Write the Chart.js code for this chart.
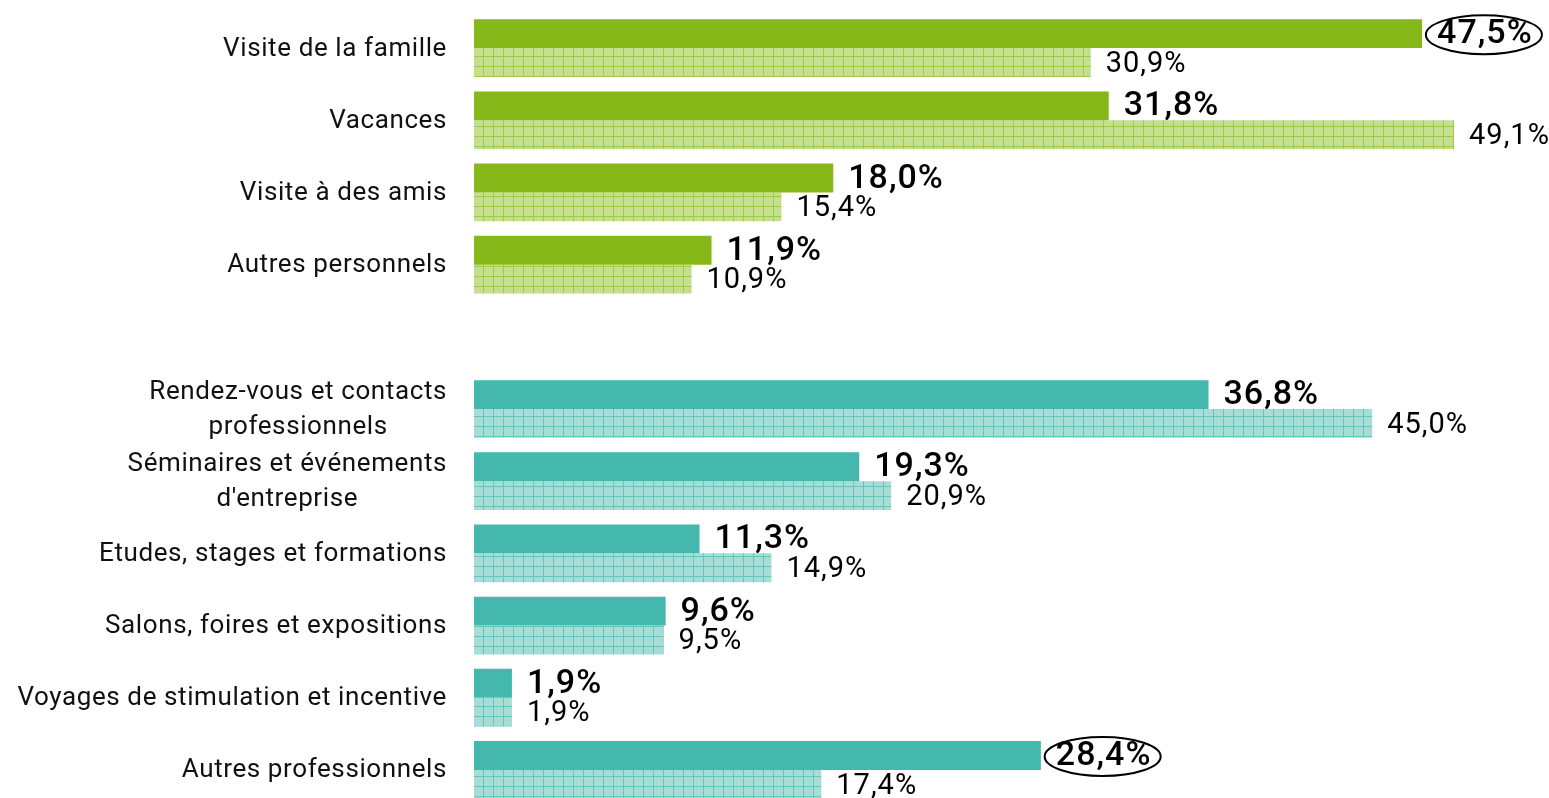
<!DOCTYPE html>
<html>
<head>
<meta charset="utf-8">
<script src="https://cdn.jsdelivr.net/npm/chart.js@4/dist/chart.umd.min.js"></script>
<style>
  html, body { margin: 0; padding: 0; background: #ffffff; overflow: hidden; }
  #wrap { position: relative; width: 1549px; height: 808px; }
</style>
</head>
<body>
<div id="wrap"><canvas id="c"></canvas></div>
<script>
// ---- data ----
const categories = [
  ["Visite de la famille"],
  ["Vacances"],
  ["Visite à des amis"],
  ["Autres personnels"],
  [""],
  ["Rendez-vous et contacts", "professionnels"],
  ["Séminaires et événements", "d'entreprise"],
  ["Etudes, stages et formations"],
  ["Salons, foires et expositions"],
  ["Voyages de stimulation et incentive"],
  ["Autres professionnels"]
];
const seriesCurrent  = [47.5, 31.8, 18.0, 11.9, null, 36.8, 19.3, 11.3, 9.6, 1.9, 28.4];
const seriesPrevious = [30.9, 49.1, 15.4, 10.9, null, 45.0, 20.9, 14.9, 9.5, 1.9, 17.4];
const groupOfCategory = ["perso", "perso", "perso", "perso", "none", "pro", "pro", "pro", "pro", "pro", "pro"];
const circled = [true, false, false, false, false, false, false, false, false, false, true];

// ---- styles ----
const palette = {
  perso: { solid: "#86B81A", light: "#C4DF90", line: "#9ACA48" },
  pro:   { solid: "#45B8AD", light: "#A8DDD7", line: "#66C4BA" },
  none:  { solid: "rgba(0,0,0,0)", light: "rgba(0,0,0,0)", line: "rgba(0,0,0,0)" }
};

const canvas = document.getElementById("c");
const ctx = canvas.getContext("2d");

function makePattern(light, line) {
  const t = document.createElement("canvas");
  t.width = 10; t.height = 10;
  const c = t.getContext("2d");
  c.fillStyle = light;
  c.fillRect(0, 0, 10, 10);
  c.fillStyle = line;
  c.fillRect(3, 0, 1, 10);
  c.fillRect(0, 6, 10, 1);
  return ctx.createPattern(t, "repeat");
}
const patterns = {
  perso: makePattern(palette.perso.light, palette.perso.line),
  pro: makePattern(palette.pro.light, palette.pro.line),
  none: "rgba(0,0,0,0)"
};

const fmt = v => v.toFixed(1).replace(".", ",") + "%";
const FONT = "Roboto, 'Noto Sans', sans-serif";

const labelPlugin = {
  id: "labels",
  afterDatasetsDraw(chart) {
    const c = chart.ctx;
    const yScale = chart.scales.y;
    c.save();
    // category labels
    c.fillStyle = "#111";
    c.font = "26px " + FONT;
    c.letterSpacing = "0.6px";
    c.textBaseline = "middle";
    categories.forEach((lines, i) => {
      const yc = yScale.getPixelForValue(i);
      const xr = 447;
      if (lines.length === 1) {
        c.textAlign = "right";
        c.fillText(lines[0], xr, yc + 1);
      } else {
        const lh = 35;
        const w0 = c.measureText(lines[0]).width;
        const cx = xr - w0 / 2;
        const top = yc - lh * (lines.length - 1) / 2;
        lines.forEach((ln, k) => {
          if (k === 0) { c.textAlign = "right"; c.fillText(ln, xr, top + 1); }
          else { c.textAlign = "center"; c.fillText(ln, cx, top + k * lh + 1); }
        });
      }
    });
    // value labels
    chart.data.datasets.forEach((ds, di) => {
      const meta = chart.getDatasetMeta(di);
      meta.data.forEach((bar, i) => {
        const v = ds.data[i];
        if (v === null || v === undefined) return;
        const bold = di === 0;
        c.font = (bold ? "500 34px " : "29px ") + FONT;
        c.letterSpacing = bold ? "1px" : "1px";
        c.fillStyle = "#000";
        c.textAlign = "left";
        c.textBaseline = "middle";
        const tx = bar.x + 15;
        const ty = bar.y + (bold ? 1 : 2);
        const txt = fmt(v);
        c.fillText(txt, tx, ty);
        if (bold && circled[i]) {
          const w = c.measureText(txt).width;
          c.beginPath();
          c.lineWidth = 2;
          c.strokeStyle = "#000";
          c.ellipse(tx + w / 2 - 1, ty, 58, 19.5, 0, 0, Math.PI * 2);
          c.stroke();
        }
      });
    });
    c.restore();
  }
};

new Chart(canvas, {
  type: "bar",
  data: {
    labels: categories,
    datasets: [
      {
        label: "current",
        data: seriesCurrent,
        backgroundColor: groupOfCategory.map(g => palette[g].solid),
        borderWidth: 0,
        categoryPercentage: 0.8,
        barPercentage: 1.0
      },
      {
        label: "previous",
        data: seriesPrevious,
        backgroundColor: groupOfCategory.map(g => patterns[g]),
        borderWidth: 0,
        categoryPercentage: 0.8,
        barPercentage: 1.0
      }
    ]
  },
  options: {
    indexAxis: "y",
    responsive: true,
    maintainAspectRatio: false,
    animation: false,
    layout: { padding: { left: 474, right: 77, top: 12, bottom: 2 } },
    plugins: { legend: { display: false }, tooltip: { enabled: false } },
    scales: {
      x: { display: false, min: 0, max: 50 },
      y: { display: false, offset: true, grid: { display: false } }
    }
  },
  plugins: [labelPlugin]
});
</script>
</body>
</html>
